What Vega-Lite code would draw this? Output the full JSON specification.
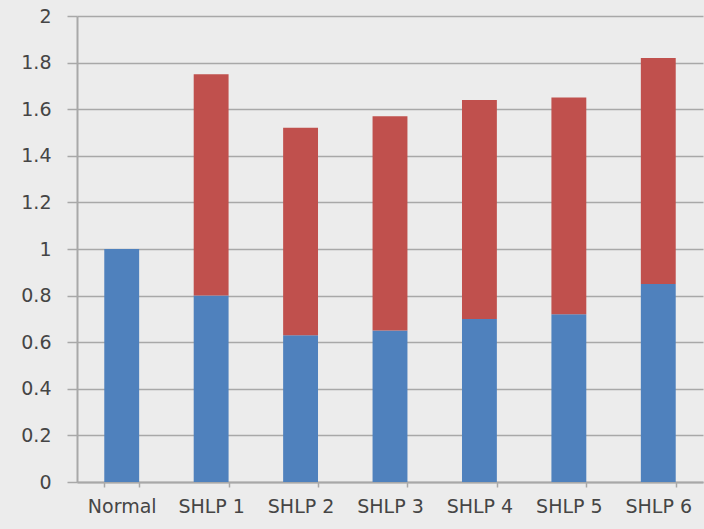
{
  "$schema": "https://vega.github.io/schema/vega-lite/v6.json",
  "autosize": "none",
  "width": 626,
  "height": 466,
  "padding": {"left": 77, "top": 16, "right": 1, "bottom": 47},
  "background": "#ececec",
  "config": {
    "view": {"stroke": null},
    "axis": {
      "labelFont": "DejaVu Sans",
      "labelFontSize": 19,
      "labelColor": "#454545",
      "domainColor": "#a8a8a8",
      "tickColor": "#a8a8a8",
      "gridColor": "#a8a8a8",
      "domainWidth": 2,
      "tickWidth": 1.5,
      "gridWidth": 1.5
    }
  },
  "data": {
    "values": [
      {"group": "Normal", "part": "base", "value": 1.0},
      {"group": "SHLP 1", "part": "base", "value": 0.80},
      {"group": "SHLP 1", "part": "added", "value": 0.95},
      {"group": "SHLP 2", "part": "base", "value": 0.63},
      {"group": "SHLP 2", "part": "added", "value": 0.89},
      {"group": "SHLP 3", "part": "base", "value": 0.65},
      {"group": "SHLP 3", "part": "added", "value": 0.92},
      {"group": "SHLP 4", "part": "base", "value": 0.70},
      {"group": "SHLP 4", "part": "added", "value": 0.94},
      {"group": "SHLP 5", "part": "base", "value": 0.72},
      {"group": "SHLP 5", "part": "added", "value": 0.93},
      {"group": "SHLP 6", "part": "base", "value": 0.85},
      {"group": "SHLP 6", "part": "added", "value": 0.97}
    ]
  },
  "mark": {"type": "bar"},
  "encoding": {
    "x": {
      "field": "group",
      "type": "nominal",
      "sort": null,
      "scale": {"paddingInner": 0.61, "paddingOuter": 0.305},
      "axis": {
        "title": null,
        "labelAngle": 0,
        "tickBand": "extent",
        "tickSize": 5,
        "labelPadding": 10,
        "grid": false
      }
    },
    "y": {
      "field": "value",
      "type": "quantitative",
      "stack": "zero",
      "scale": {"domain": [0, 2], "nice": false},
      "axis": {
        "title": null,
        "values": [0, 0.2, 0.4, 0.6, 0.8, 1, 1.2, 1.4, 1.6, 1.8, 2],
        "format": "~g",
        "tickSize": 10,
        "labelPadding": 16,
        "grid": true,
        "domainWidth": 2
      }
    },
    "color": {
      "field": "part",
      "type": "nominal",
      "scale": {"domain": ["base", "added"], "range": ["#4f81bd", "#c0504d"]},
      "legend": null
    },
    "order": {"field": "part", "sort": "descending"}
  }
}
